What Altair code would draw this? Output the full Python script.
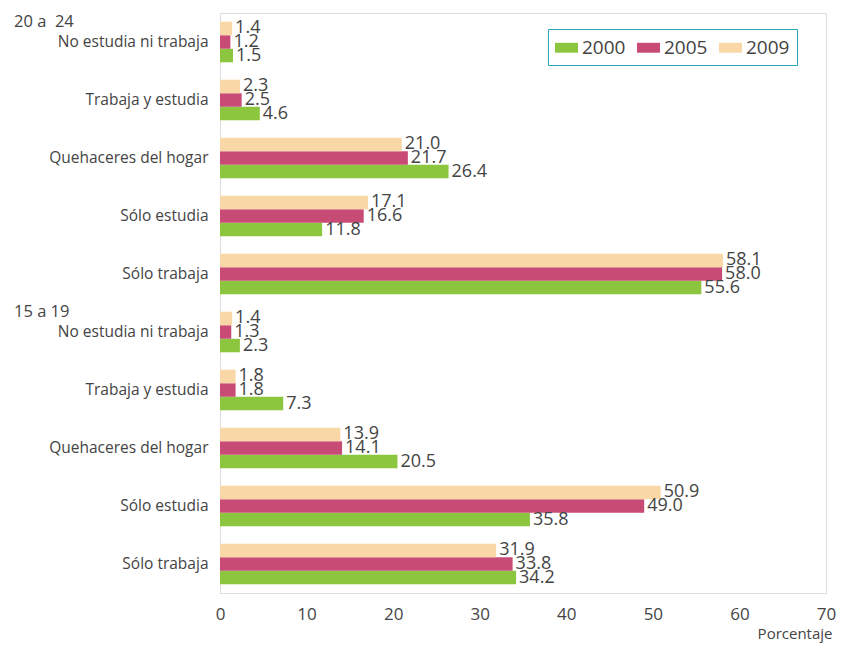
import altair as alt
import pandas as pd

activities = ["No estudia ni trabaja", "Trabaja y estudia", "Quehaceres del hogar",
              "Sólo estudia", "Sólo trabaja"]
groups = ["20 a 24", "15 a 19"]
group_labels = ["20 a \u00a024", "15 a 19"]
years = ["2000", "2005", "2009"]

# values per group, per activity (order above), per year
v_20_24 = {
    "2000": [1.5, 4.6, 26.4, 11.8, 55.6],
    "2005": [1.2, 2.5, 21.7, 16.6, 58.0],
    "2009": [1.4, 2.3, 21.0, 17.1, 58.1],
}
v_15_19 = {
    "2000": [2.3, 7.3, 20.5, 35.8, 34.2],
    "2005": [1.3, 1.8, 14.1, 49.0, 33.8],
    "2009": [1.4, 1.8, 13.9, 50.9, 31.9],
}
colors = ["#8cc63f", "#c84b76", "#f9d7a6"]

rows = []
order = []
for g, vals in zip(groups, [v_20_24, v_15_19]):
    for i, a in enumerate(activities):
        key = g + "|" + a
        order.append(key)
        for y in years:
            rows.append({"cat": key, "year": y, "value": vals[y][i]})
df = pd.DataFrame(rows)
gdf = pd.DataFrame({"cat": [g + "|" + activities[0] for g in groups], "label": group_labels})

FONT = "Open Sans"
TXT = "#444444"

yenc = alt.Y("cat:N", sort=order, title=None,
             scale=alt.Scale(paddingInner=0.3, paddingOuter=0.15),
             axis=alt.Axis(labelExpr="split(datum.value, '|')[1]", domain=False, ticks=False,
                           labelPadding=12, labelFontSize=15.5, labelColor=TXT, labelFont=FONT))
yoff = alt.YOffset("year:N", sort=["2009", "2005", "2000"])
xenc = alt.X("value:Q", scale=alt.Scale(domain=[0, 70]),
             axis=alt.Axis(values=list(range(0, 71, 10)), grid=False, ticks=False, domain=False,
                           labelFlush=False,
                           labelPadding=13, labelFontSize=17, labelColor=TXT, labelFont=FONT,
                           title="Porcentaje", titleFont=FONT, titleFontSize=15,
                           titleFontWeight="normal", titleColor=TXT, titleAlign="right",
                           titleAnchor="end", titleX=612, titleY=40, titleBaseline="middle"))

bars = alt.Chart(df).mark_bar(size=13.5).encode(
    x=xenc, y=yenc, yOffset=yoff,
    color=alt.Color("year:N", sort=years, scale=alt.Scale(domain=years, range=colors),
                    legend=alt.Legend(title=None, orient="none", legendX=328, legendY=16,
                                      direction="horizontal", strokeColor="#27a9b9",
                                      padding=7, labelFontSize=19, labelFont=FONT,
                                      labelColor=TXT, labelOffset=4, columnPadding=11,
                                      symbolType="M-1,-0.43H1V0.43H-1Z", symbolSize=529,
                                      symbolStrokeWidth=0)),
)
labels = alt.Chart(df).mark_text(align="left", baseline="middle", dx=3, fontSize=18,
                                 font=FONT, color=TXT).encode(
    x="value:Q", y=alt.Y("cat:N", sort=order), yOffset=yoff,
    text=alt.Text("value:Q", format=".1f"))
glabels = alt.Chart(gdf).mark_text(align="left", baseline="middle", dy=-20, fontSize=16.5,
                                   font=FONT, color=TXT).encode(
    x=alt.value(-206), y=alt.Y("cat:N", sort=order), text="label:N")

chart = alt.layer(bars, labels, glabels).properties(
    width=606, height=580,
    autosize=alt.AutoSizeParams(type="none"),
    padding={"left": 212, "top": 5, "right": 10, "bottom": 52},
).configure_view(stroke="#27a9b9", strokeWidth=1.5).configure(background="white")

chart.save("out.html", embed_options={"renderer": "svg", "actions": False})
